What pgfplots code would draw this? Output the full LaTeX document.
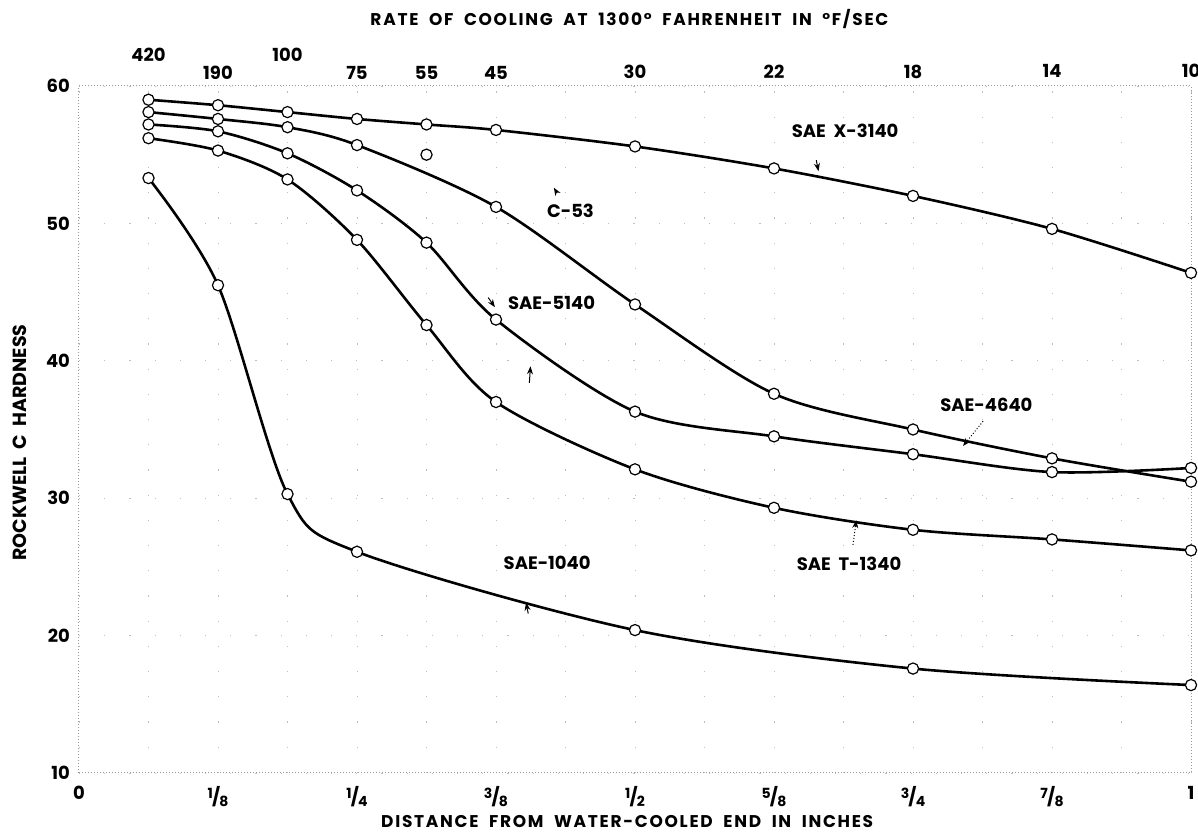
\documentclass[border=0pt]{standalone}
\usepackage{fontspec}
\setmainfont{Poppins}
\newfontfamily\spaced{Poppins}[LetterSpace=10]
\usepackage{pgfplots}
\pgfplotsset{compat=1.18}
\usetikzlibrary{arrows.meta}

\newcommand{\fr}[2]{\raisebox{0.5ex}{\scriptsize #1}\kern-0.4pt/\kern-0.4pt\raisebox{-0.3ex}{\scriptsize #2}}

\begin{document}
\begin{tikzpicture}
\begin{axis}[
  width=556pt, height=343.5pt,
  scale only axis,
  xmin=0, xmax=1, ymin=10, ymax=60,
  clip=false,
  xtick={0,0.125,0.25,0.375,0.5,0.625,0.75,0.875,1},
  xticklabels={0,\fr{1}{8},\fr{1}{4},\fr{3}{8},\fr{1}{2},\fr{5}{8},\fr{3}{4},\fr{7}{8},1},
  minor x tick num=1,
  ytick={10,20,...,60},
  major tick length=0pt, minor tick length=0pt,
  xmajorgrids, xminorgrids, ymajorgrids,
  grid style={gray!50, dash pattern=on 0.6pt off 12pt, line width=0.4pt},
  minor grid style={gray!50, dash pattern=on 0.6pt off 12pt, line width=0.4pt},
  axis line style={gray!80, densely dotted, line width=0.5pt},
  tick label style={font=\fontsize{9}{10}\selectfont\bfseries},
  /pgf/number format/assume math mode=true,
  xticklabel style={yshift=-3pt},
  yticklabel style={xshift=-1pt},
  every axis plot/.append style={line width=1.3pt, black},
  mark options={fill=white, draw=black, line width=0.6pt, solid},
]
\coordinate (sw) at (rel axis cs:0,0);
\coordinate (ne) at (rel axis cs:1,1);

% SAE X-3140
\addplot[smooth, mark=*, mark size=2.8pt] coordinates {
(0.0625,59.0) (0.125,58.6) (0.1875,58.1) (0.25,57.6) (0.3125,57.2) (0.375,56.8)
(0.5,55.6) (0.625,54.0) (0.75,52.0) (0.875,49.6) (1,46.4)};
% SAE-4640 / C-53
\addplot[smooth, mark=*, mark size=2.8pt] coordinates {
(0.0625,58.1) (0.125,57.6) (0.1875,57.0) (0.25,55.7) (0.375,51.2)
(0.5,44.1) (0.625,37.6) (0.75,35.0) (0.875,32.9) (1,31.2)};
% SAE-5140
\addplot[smooth, mark=*, mark size=2.8pt] coordinates {
(0.0625,57.2) (0.125,56.7) (0.1875,55.1) (0.25,52.4) (0.3125,48.6) (0.375,43.0)
(0.5,36.3) (0.625,34.5) (0.75,33.2) (0.875,31.9) (1,32.2)};
% SAE T-1340
\addplot[smooth, mark=*, mark size=2.8pt] coordinates {
(0.0625,56.2) (0.125,55.3) (0.1875,53.2) (0.25,48.8) (0.3125,42.6) (0.375,37.0)
(0.5,32.1) (0.625,29.3) (0.75,27.7) (0.875,27.0) (1,26.2)};
% SAE-1040
\addplot[smooth, mark=*, mark size=2.8pt] coordinates {
(0.0625,53.3) (0.125,45.5) (0.1875,30.3) (0.25,26.1)
(0.5,20.4) (0.75,17.6) (1,16.4)};
% single point C-53
\addplot[only marks, mark=*, mark size=2.8pt] coordinates {(0.3125,55.0)};

% curve labels
\begin{scope}[every node/.style={font=\fontsize{9}{10}\selectfont\bfseries}]
\node at (axis cs:0.689,56.7) {SAE\ \ X-3140};
\node at (axis cs:0.442,50.9) {C-53};
\node at (axis cs:0.425,44.2) {SAE-5140};
\node at (axis cs:0.816,36.8) {SAE-4640};
\node at (axis cs:0.6925,25.2) {SAE\ \ T-1340};
\node at (axis cs:0.421,25.3) {SAE-1040};
\end{scope}
\begin{scope}[line width=0.5pt, -{Stealth[length=4pt,width=3pt]}]
\draw (axis cs:0.43,52.2) -- (axis cs:0.427,52.6);
\draw[densely dotted] (axis cs:0.813,35.6) -- (axis cs:0.795,33.8);
\draw[densely dotted] (axis cs:0.696,26.6) -- (axis cs:0.699,28.4);
\draw (axis cs:0.368,44.6) -- (axis cs:0.374,43.9);
\draw (axis cs:0.405,38.4) -- (axis cs:0.406,39.6);
\draw (axis cs:0.404,21.6) -- (axis cs:0.402,22.4);
\draw (axis cs:0.663,54.6) -- (axis cs:0.665,53.8);
\end{scope}

% top scale: rate of cooling
\begin{scope}[every node/.style={font=\fontsize{9}{10}\selectfont\bfseries}]
\node[yshift=15.5pt] at (axis cs:0.0625,60) {420};
\node[yshift=6.5pt]  at (axis cs:0.125,60) {190};
\node[yshift=15.5pt] at (axis cs:0.1875,60) {100};
\node[yshift=6.5pt]  at (axis cs:0.25,60) {75};
\node[yshift=6.5pt]  at (axis cs:0.3125,60) {55};
\node[yshift=6.5pt]  at (axis cs:0.375,60) {45};
\node[yshift=7pt]  at (axis cs:0.5,60) {30};
\node[yshift=7pt]  at (axis cs:0.625,60) {22};
\node[yshift=7pt]  at (axis cs:0.75,60) {18};
\node[yshift=7.5pt]  at (axis cs:0.875,60) {14};
\node[yshift=7.5pt]  at (axis cs:1,60) {10};
\end{scope}
\node[font=\spaced\fontsize{8.5}{10}\selectfont\bfseries, yshift=33.5pt] at (axis cs:0.495,60)
  {RATE\ \ OF\ \ COOLING\ \ AT\ \ 1300°\ \ FAHRENHEIT\ \ IN\ \ °F/SEC};
\node[font=\spaced\fontsize{8.5}{10}\selectfont\bfseries, yshift=-24.5pt] at (axis cs:0.493,10)
  {DISTANCE\ \ FROM\ \ WATER-COOLED\ \ END\ \ IN\ \ INCHES};
\node[font=\fontsize{9.5}{10}\selectfont\bfseries, rotate=90] at ([xshift=-29.5pt]rel axis cs:0,0.481)
  {ROCKWELL\ \ C\ \ HARDNESS};
\end{axis}
\pgfresetboundingbox
\path[use as bounding box] ([shift={(-39.5pt,-30pt)}]sw) rectangle ([shift={(3.5pt,43pt)}]ne);
\end{tikzpicture}
\end{document}
